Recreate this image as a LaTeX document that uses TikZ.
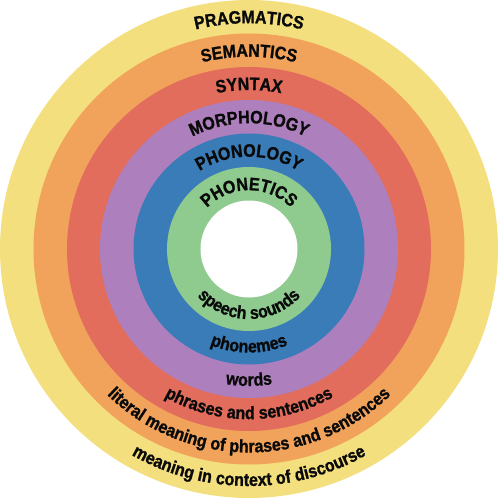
\documentclass[tikz,border=0pt]{standalone}
\usepackage{fontspec}
\setmainfont{Liberation Sans}
\newfontfamily\lblfam[FakeStretch=0.89,FakeBold=1.2]{Liberation Sans}
\usetikzlibrary{decorations.text}
\definecolor{cyellow}{HTML}{F3DF7D}
\definecolor{corange}{HTML}{F1A25B}
\definecolor{cred}{HTML}{E26D5C}
\definecolor{cpurple}{HTML}{AE7FBD}
\definecolor{cblue}{HTML}{3A7CB8}
\definecolor{cgreen}{HTML}{8FCA8F}
\definecolor{ctext}{HTML}{0A0A0A}
\newcommand{\lblfont}{\lblfam\fontsize{18}{20}\selectfont\bfseries}
\tikzset{
  arclabel/.style={decorate, decoration={text along path, text align=center, text color=ctext, text={|\lblfont|#1}}}
}
\begin{document}
\begin{tikzpicture}
\useasboundingbox (-249pt,-249pt) rectangle (249pt,249pt);
\fill[cyellow] (0,0) circle[radius=249pt];
\fill[corange] (0,0) circle[radius=215.5pt];
\fill[cred] (0,0) circle[radius=182pt];
\fill[cpurple] (0,0) circle[radius=149pt];
\fill[cblue] (0,0) circle[radius=115.5pt];
\fill[cgreen] (0,0) circle[radius=82pt];
\fill[white] (0,0) circle[radius=48.5pt];
% top labels
\path[arclabel={PRAGMATICS}] (180:225.8pt) arc[start angle=180,end angle=0,radius=225.8pt];
\path[arclabel={SEMANTICS}] (180:192.3pt) arc[start angle=180,end angle=0,radius=192.3pt];
\path[arclabel={SYNTAX}] (180:159pt) arc[start angle=180,end angle=0,radius=159pt];
\path[arclabel={MORPHOLOGY}] (180:125.8pt) arc[start angle=180,end angle=0,radius=125.8pt];
\path[arclabel={PHONOLOGY}] (180:92.3pt) arc[start angle=180,end angle=0,radius=92.3pt];
\path[arclabel={PHONETICS}] (180:58.8pt) arc[start angle=180,end angle=0,radius=58.8pt];
% bottom labels
\path[arclabel={meaning in context of discourse}] (180:237pt) arc[start angle=180,end angle=360,radius=237pt];
\path[arclabel={literal meaning of phrases and sentences}] (180:203.5pt) arc[start angle=180,end angle=360,radius=203.5pt];
\path[arclabel={phrases and sentences}] (180:170.2pt) arc[start angle=180,end angle=360,radius=170.2pt];
\path[arclabel={words}] (180:137pt) arc[start angle=180,end angle=360,radius=137pt];
\path[arclabel={phonemes}] (180:103.5pt) arc[start angle=180,end angle=360,radius=103.5pt];
\path[arclabel={speech sounds}] (180:70pt) arc[start angle=180,end angle=360,radius=70pt];
\end{tikzpicture}
\end{document}
